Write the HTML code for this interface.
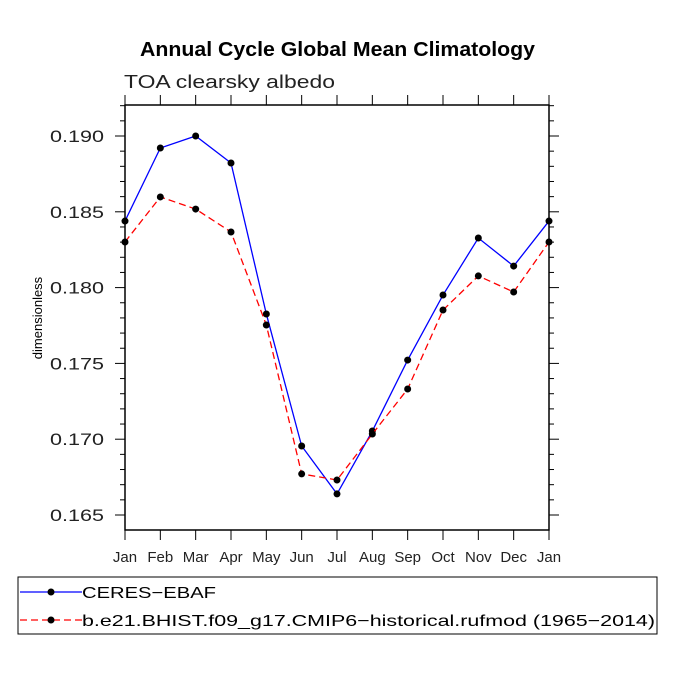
<!DOCTYPE html>
<html><head><meta charset="utf-8"><style>body{margin:0;background:#fff}svg{display:block}</style></head>
<body>
<svg id="c" width="675" height="675" viewBox="0 0 675 675" xmlns="http://www.w3.org/2000/svg" font-family="Liberation Sans, sans-serif">
<text x="140" y="56" textLength="395" lengthAdjust="spacingAndGlyphs" font-weight="bold" font-size="20">Annual Cycle Global Mean Climatology</text>
<text x="124" y="88" font-size="18" fill="#222" textLength="211" lengthAdjust="spacingAndGlyphs">TOA clearsky albedo</text>
<text transform="translate(42,318) rotate(-90)" text-anchor="middle" font-size="13">dimensionless</text>
<g id="axes"></g><g id="series"></g>
<g>
<rect x="18" y="577" width="639" height="57" fill="none" stroke="#000"/>
<g><line x1="20" y1="592" x2="82" y2="592" stroke="#00f" stroke-width="1.3"/><circle cx="51" cy="592" r="3.5"/><text x="82" y="598" font-size="16" textLength="134" lengthAdjust="spacingAndGlyphs">CERES−EBAF</text></g>
<g><line x1="20" y1="620" x2="82" y2="620" stroke="#f00" stroke-width="1.3" stroke-dasharray="7,4"/><circle cx="51" cy="620" r="3.5"/><text x="82" y="626" font-size="16" textLength="573" lengthAdjust="spacingAndGlyphs">b.e21.BHIST.f09_g17.CMIP6−historical.rufmod (1965−2014)</text></g>
</g>
</svg>
<script>
const months=["Jan","Feb","Mar","Apr","May","Jun","Jul","Aug","Sep","Oct","Nov","Dec","Jan"];
const ceres=[0.18439,0.18921,0.1900,0.18822,0.17826,0.16955,0.16639,0.17054,0.17522,0.17951,0.18327,0.18142,0.18439];
const model=[0.18301,0.18598,0.18518,0.18367,0.17753,0.16771,0.16731,0.17034,0.17331,0.17852,0.18077,0.17971,0.18301];
const yTicks=[0.165,0.170,0.175,0.180,0.185,0.190];
const ns="http://www.w3.org/2000/svg";
const L=125,R=549,T=105,B=530;
const x=i=>L+i*(R-L)/12;
const y=v=>136+(0.190-v)/0.005*75.8;
function mk(p,t,a){const e=document.createElementNS(ns,t);for(const k in a)e.setAttribute(k,a[k]);p.appendChild(e);return e;}
const ax=document.getElementById('axes');
const fr=mk(ax,'rect',{x:L,y:T,width:R-L,height:B-T,fill:'none',stroke:'#000','stroke-width':1.5});


for(let v=0.164;v<=0.1921;v+=0.001){const yy=y(v);if(yy<T||yy>B)continue;
 const maj=Math.abs(v*200-Math.round(v*200))<1e-6;const len=maj?10:5;
 mk(ax,'line',{x1:L-len,y1:yy,x2:L,y2:yy,stroke:'#000'});mk(ax,'line',{x1:R,y1:yy,x2:R+len,y2:yy,stroke:'#000'});}
yTicks.forEach(v=>{const t=mk(ax,'text',{x:50,y:y(v)+6,'font-size':17,fill:'#222',textLength:54,lengthAdjust:'spacingAndGlyphs'});t.textContent=v.toFixed(3);

});
months.forEach((m,i)=>{mk(ax,'line',{x1:x(i),y1:B,x2:x(i),y2:B+10,stroke:'#000'});mk(ax,'line',{x1:x(i),y1:T-10,x2:x(i),y2:T,stroke:'#000'});
const t=mk(ax,'text',{x:x(i),y:B+32,'text-anchor':'middle','font-size':15,fill:'#222'});t.textContent=m;

});
const sg=document.getElementById('series');
function series(d,col,dash,name){const g=mk(sg,'g',{});


const a={points:d.map((v,i)=>x(i)+','+y(v)).join(' '),fill:'none',stroke:col,'stroke-width':1.3};if(dash)a['stroke-dasharray']=dash;mk(g,'polyline',a);
d.forEach((v,i)=>mk(g,'circle',{cx:x(i),cy:y(v),r:3.5,fill:'#000'}));}
series(ceres,'#00f',null,'series-ceres');
series(model,'#f00','7,4','series-model');
</script>
</body></html>
